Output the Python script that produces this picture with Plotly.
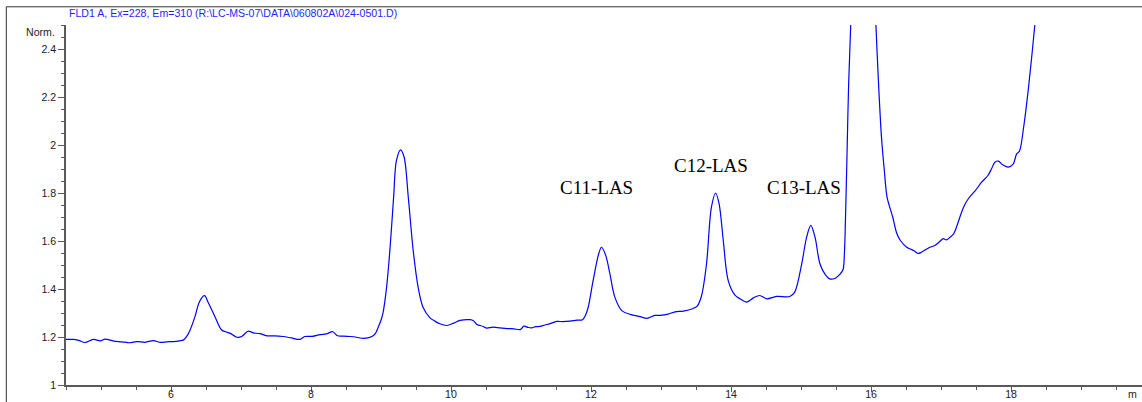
import plotly.graph_objects as go

# retention time (min) and normalised FLD signal
time_min = [
    4.50, 4.60, 4.68, 4.77, 4.89, 4.99, 5.06, 5.18, 5.30, 5.41, 5.51, 5.63, 5.75, 5.84, 5.94,
    6.03, 6.12, 6.18, 6.23, 6.27, 6.34, 6.41, 6.48, 6.53, 6.63, 6.72, 6.78, 6.84, 6.94, 7.01,
    7.10, 7.18, 7.27, 7.37, 7.48, 7.60, 7.72, 7.84, 7.91, 8.02, 8.13, 8.22, 8.31, 8.38, 8.47,
    8.56, 8.65, 8.75, 8.87, 8.92, 8.96, 9.00, 9.03, 9.08, 9.13, 9.18, 9.22, 9.28, 9.33, 9.39,
    9.46, 9.53, 9.60, 9.70, 9.77, 9.84, 9.94, 10.04, 10.13, 10.27, 10.32, 10.37, 10.46, 10.51,
    10.60, 10.70, 10.80, 10.90, 10.99, 11.04, 11.10, 11.15, 11.21, 11.27, 11.34, 11.41, 11.51,
    11.60, 11.70, 11.80, 11.88, 11.92, 11.96, 12.03, 12.11, 12.15, 12.21, 12.27, 12.34, 12.44,
    12.56, 12.70, 12.80, 12.91, 12.99, 13.10, 13.20, 13.32, 13.45, 13.52, 13.58, 13.65, 13.72,
    13.78, 13.83, 13.89, 13.96, 14.06, 14.13, 14.22, 14.32, 14.41, 14.51, 14.65, 14.84, 14.91,
    15.01, 15.08, 15.14, 15.20, 15.27, 15.34, 15.41, 15.49, 15.56, 15.60, 15.62, 15.64, 15.66,
    15.68, 15.71, 15.75, 15.85, 15.97, 16.03, 16.07, 16.11, 16.15, 16.19, 16.23, 16.31, 16.37,
    16.42, 16.51, 16.56, 16.61, 16.67, 16.72, 16.84, 16.91, 16.99, 17.03, 17.08, 17.13, 17.18,
    17.22, 17.27, 17.32, 17.39, 17.49, 17.58, 17.67, 17.72, 17.77, 17.82, 17.87, 17.96, 18.03,
    18.08, 18.12, 18.18, 18.25, 18.34, 18.40,
]
signal_norm = [
    1.190, 1.190, 1.186, 1.177, 1.190, 1.184, 1.191, 1.183, 1.180, 1.176, 1.181, 1.178, 1.185, 1.178, 1.180,
    1.181, 1.184, 1.188, 1.205, 1.227, 1.283, 1.349, 1.372, 1.345, 1.283, 1.230, 1.222, 1.216, 1.199, 1.202,
    1.224, 1.217, 1.214, 1.205, 1.205, 1.202, 1.196, 1.190, 1.202, 1.203, 1.210, 1.213, 1.222, 1.205, 1.204,
    1.202, 1.199, 1.194, 1.202, 1.215, 1.241, 1.270, 1.303, 1.408, 1.574, 1.782, 1.935, 1.980, 1.950, 1.782,
    1.560, 1.408, 1.324, 1.280, 1.266, 1.255, 1.248, 1.258, 1.269, 1.272, 1.268, 1.252, 1.244, 1.237,
    1.241, 1.238, 1.235, 1.234, 1.231, 1.245, 1.240, 1.238, 1.243, 1.244, 1.250, 1.255, 1.265,
    1.264, 1.266, 1.270, 1.272, 1.290, 1.324, 1.435, 1.547, 1.574, 1.540, 1.463, 1.366, 1.310,
    1.294, 1.285, 1.278, 1.290, 1.290, 1.295, 1.305, 1.308, 1.318, 1.330, 1.373, 1.505, 1.741,
    1.800, 1.755, 1.600, 1.435, 1.373, 1.359, 1.345, 1.363, 1.373, 1.359, 1.369, 1.369, 1.387,
    1.505, 1.616, 1.665, 1.616, 1.505, 1.463, 1.442, 1.445, 1.463, 1.480, 1.550, 1.750, 2.000,
    2.250, 2.500, 3.000, 3.600, 3.200, 2.800, 2.500, 2.240, 2.030, 1.894, 1.782, 1.700, 1.630,
    1.602, 1.574, 1.567, 1.560, 1.548, 1.553, 1.574, 1.581, 1.600, 1.610, 1.605, 1.616, 1.630,
    1.657, 1.700, 1.740, 1.776, 1.810, 1.845, 1.873, 1.900, 1.928, 1.933, 1.920, 1.908, 1.920,
    1.963, 1.974, 2.074, 2.240, 2.500, 2.700,
]

peak_labels = ["C11-LAS", "C12-LAS", "C13-LAS"]
peak_label_x = [12.08, 13.71, 15.04]
peak_label_y = [1.823, 1.915, 1.823]

title_text = "FLD1 A, Ex=228, Em=310 (R:\\LC-MS-07\\DATA\\060802A\\024-0501.D)"

SANS = "Liberation Sans, Arial, sans-serif"
SERIF = "Liberation Serif, Times New Roman, serif"
AXC = "#5a5a5a"

fig = go.Figure()
fig.add_trace(go.Scatter(x=time_min, y=signal_norm, mode="lines",
                         line=dict(color="#0000ff", width=1.2, shape="spline", smoothing=0.9),
                         hoverinfo="skip", showlegend=False))

for txt, px, py in zip(peak_labels, peak_label_x, peak_label_y):
    fig.add_annotation(x=px, y=py, xref="x", yref="y", text=txt, showarrow=False,
                       font=dict(family=SERIF, size=19, color="black"),
                       xanchor="center", yanchor="middle")

fig.add_annotation(x=0.001, y=1.033, xref="paper", yref="paper", text=title_text,
                   showarrow=False, xanchor="left", yanchor="middle",
                   font=dict(family=SANS, size=10.6, color="#1f1fff"))
fig.add_annotation(x=-0.008, y=0.98, xref="paper", yref="paper", text="Norm.",
                   showarrow=False, xanchor="right", yanchor="middle",
                   font=dict(family=SANS, size=10.6, color="#222"))
fig.add_annotation(x=0.9865, y=-0.025, xref="paper", yref="paper", text="m",
                   showarrow=False, xanchor="left", yanchor="middle", borderpad=0,
                   font=dict(family=SANS, size=10.6, color="#222"))

# outer frame
fig.add_shape(type="rect", xref="paper", yref="paper", x0=-0.0555, x1=1.2,
              y0=-0.3, y1=1.0506, line=dict(color="#333", width=1), fillcolor="rgba(0,0,0,0)")

fig.update_layout(
    width=1142, height=402,
    margin=dict(l=66, r=0, t=25, b=17, autoexpand=False),
    paper_bgcolor="white", plot_bgcolor="white",
    xaxis=dict(range=[4.5, 19.871], dtick=2, tick0=0, showgrid=False, zeroline=False,
               automargin=False, showline=True, linecolor=AXC, linewidth=1.5,
               ticks="outside", ticklen=5, tickcolor=AXC, tickwidth=1,
               ticklabelstandoff=-6,
               tickfont=dict(family=SANS, size=10.6, color="#222"),
               minor=dict(dtick=0.5, tick0=0, ticks="outside", ticklen=3, tickcolor=AXC)),
    yaxis=dict(range=[1, 2.5], dtick=0.2, tick0=1, showgrid=False, zeroline=False,
               automargin=False, showline=True, linecolor=AXC, linewidth=1.5,
               ticks="outside", ticklen=6, tickcolor=AXC, tickwidth=1,
               tickfont=dict(family=SANS, size=10.6, color="#222"),
               minor=dict(dtick=0.05, tick0=1, ticks="outside", ticklen=3, tickcolor=AXC)),
)

fig.write_html("out.html")
